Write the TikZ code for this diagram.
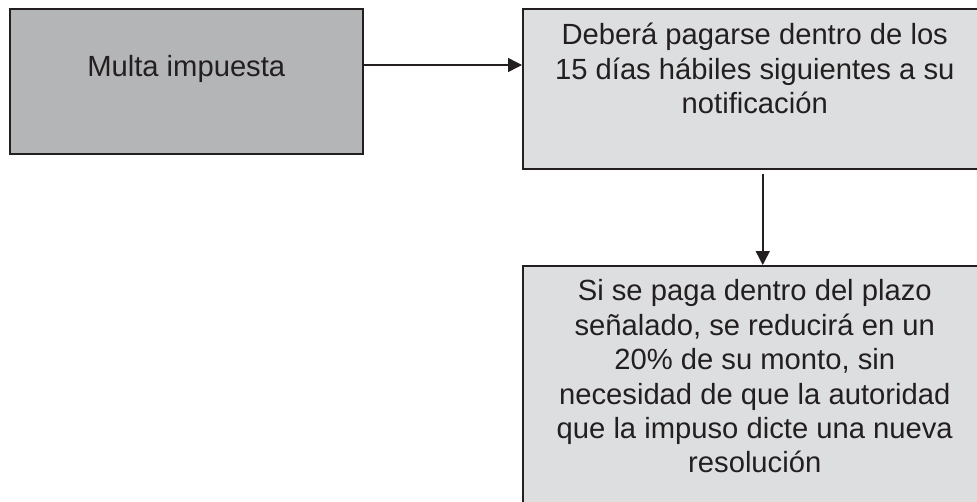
\documentclass[tikz,border=0pt]{standalone}
\usepackage{fontspec}
\setmainfont{Liberation Sans}
\usepackage[dvipsnames]{xcolor}
\definecolor{MULTAcolor}{HTML}{b4b5b7}
\definecolor{PLAZOcolor}{HTML}{dddee0}
\definecolor{LINEAcolor}{HTML}{231f20}
\usepackage{tikz}
\usetikzlibrary{math,arrows.meta}

\tikzset{
    caja/.style={draw=LINEAcolor, line width=1.5pt, inner sep=0pt, anchor=north west},
    texto/.style={anchor=north, inner sep=0pt, align=center, text=LINEAcolor,
        font=\fontsize{29.2pt}{34.4pt}\selectfont, execute at begin node=\rule{0pt}{30pt}},
    flecha/.style={-{Triangle[length=14pt, width=14pt]}, LINEAcolor, line width=1.5pt},
}

\begin{document}
\begin{tikzpicture}[x=1pt, y=1pt]
    \tikzmath{%
        \anchoMulta=353;
        \altoMulta=145;
        \anchoCaja=464;
        \altoPlazo=160;
        \altoReduccion=300;
        \yFlecha=57;
        \xFlecha=8;
    };

    \useasboundingbox (0, 0) rectangle (977, -501);
    \clip (0, 0) rectangle (977, -501);

    % cajas
    \node [caja, fill=MULTAcolor, minimum width=\anchoMulta pt, minimum height=\altoMulta pt] (multa) at (9, -8) {};
    \node [caja, fill=PLAZOcolor, minimum width=\anchoCaja pt, minimum height=\altoPlazo pt] (plazo) at (522, -8) {};
    \node [caja, fill=PLAZOcolor, minimum width=\anchoCaja pt, minimum height=\altoReduccion pt] (reduccion) at (522, -265) {};

    % textos
    \node [texto] (textomulta) at ([yshift=-38pt]multa.north) {Multa impuesta};
    \node [texto] (textoplazo) at ([yshift=-15pt]plazo.north) {Deberá pagarse dentro de los\\15 días hábiles siguientes a su\\notificación};
    \node [texto] (textoreduccion) at ([yshift=-14.5pt]reduccion.north) {Si se paga dentro del plazo\\señalado, se reducirá en un\\20\% de su monto, sin\\necesidad de que la autoridad\\que la impuso dicte una nueva\\resolución};

    % flechas
    \draw [flecha] ([yshift=-\yFlecha pt]multa.north east) -- ([yshift=-\yFlecha pt]plazo.north west);
    \draw [flecha, shorten <=4pt] ([xshift=\xFlecha pt]plazo.south) -- ([xshift=\xFlecha pt]reduccion.north);

\end{tikzpicture}
\end{document}
